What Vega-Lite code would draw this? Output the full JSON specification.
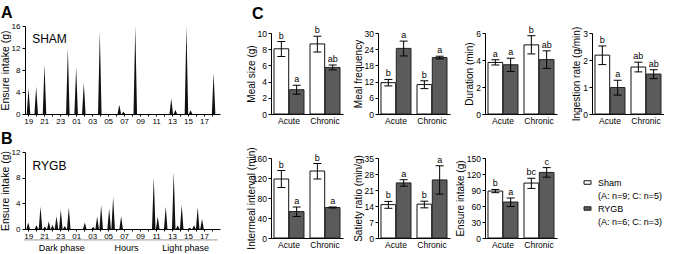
{
 "$schema": "https://vega.github.io/schema/vega-lite/v6.json",
 "padding": {"left": 0, "top": 5, "right": 0, "bottom": 0},
 "config": {
  "font": "Liberation Sans",
  "view": {"stroke": null},
  "axis": {"domainColor": "#000", "tickColor": "#000", "labelColor": "#000", "titleColor": "#000", "grid": false, "labelFontSize": 8.5, "titleFontSize": 10, "titleFontWeight": "normal", "tickSize": 3, "labelPadding": 1.5, "titlePadding": 1, "labelOverlap": false, "tickCount": 60},
  "axisQuantitative": {"format": "~g"},
  "title": {"fontSize": 16, "fontWeight": "bold", "anchor": "start", "frame": "group", "baseline": "alphabetic", "color": "#000"},
  "legend": {"orient": "none", "legendX": 558, "legendY": 152, "symbolType": "M-1,-0.5H1V0.5H-1Z", "symbolSize": 49, "symbolStrokeWidth": 1, "labelFontSize": 9, "labelOffset": 6, "rowPadding": 3, "padding": 0, "labelColor": "#000", "labelLimit": 200}
 },
 "datasets": {
  "sham": [
   {"t": -0.18, "v": 0}, {"t": 0.04, "v": 4.7}, {"t": 0.26, "v": 0},
   {"t": 0.78, "v": 0}, {"t": 1.0, "v": 5.0}, {"t": 1.22, "v": 0},
   {"t": 1.82, "v": 0}, {"t": 2.04, "v": 9.0}, {"t": 2.26, "v": 0},
   {"t": 4.74, "v": 0}, {"t": 4.96, "v": 12.0}, {"t": 5.18, "v": 0},
   {"t": 5.78, "v": 0}, {"t": 6.0, "v": 8.5}, {"t": 6.22, "v": 0},
   {"t": 6.74, "v": 0}, {"t": 6.96, "v": 5.7}, {"t": 7.18, "v": 0},
   {"t": 8.74, "v": 0}, {"t": 8.96, "v": 15.0}, {"t": 9.18, "v": 0},
   {"t": 11.18, "v": 0}, {"t": 11.4, "v": 1.7}, {"t": 11.62, "v": 0},
   {"t": 11.7, "v": 0}, {"t": 11.92, "v": 0.4}, {"t": 12.14, "v": 0},
   {"t": 13.18, "v": 0}, {"t": 13.4, "v": 16.0}, {"t": 13.62, "v": 0},
   {"t": 17.68, "v": 0}, {"t": 17.9, "v": 2.8}, {"t": 18.12, "v": 0},
   {"t": 18.2, "v": 0}, {"t": 18.42, "v": 0.75}, {"t": 18.64, "v": 0},
   {"t": 19.58, "v": 0}, {"t": 19.8, "v": 16.0}, {"t": 20.02, "v": 0},
   {"t": 20.1, "v": 0}, {"t": 20.32, "v": 0.7}, {"t": 20.54, "v": 0},
   {"t": 22.98, "v": 0}, {"t": 23.2, "v": 7.5}, {"t": 23.42, "v": 0}
  ],
  "rygb": [
   {"t": -0.22, "v": 0}, {"t": 0.0, "v": 1.0}, {"t": 0.22, "v": 0},
   {"t": 0.82, "v": 0}, {"t": 1.04, "v": 0.6}, {"t": 1.26, "v": 0},
   {"t": 1.32, "v": 0}, {"t": 1.54, "v": 3.5}, {"t": 1.76, "v": 0},
   {"t": 1.86, "v": 0}, {"t": 2.08, "v": 0.4}, {"t": 2.3, "v": 0},
   {"t": 2.36, "v": 0}, {"t": 2.58, "v": 1.15}, {"t": 2.8, "v": 0},
   {"t": 2.84, "v": 0}, {"t": 3.04, "v": 0.65}, {"t": 3.26, "v": 0},
   {"t": 3.32, "v": 0}, {"t": 3.54, "v": 2.0}, {"t": 3.76, "v": 0},
   {"t": 3.86, "v": 0}, {"t": 4.08, "v": 3.0}, {"t": 4.3, "v": 0},
   {"t": 4.36, "v": 0}, {"t": 4.58, "v": 0.45}, {"t": 4.8, "v": 0},
   {"t": 4.86, "v": 0}, {"t": 5.08, "v": 3.35}, {"t": 5.3, "v": 0},
   {"t": 6.86, "v": 0}, {"t": 7.08, "v": 1.0}, {"t": 7.3, "v": 0},
   {"t": 7.91, "v": 0}, {"t": 8.13, "v": 0.35}, {"t": 8.35, "v": 0},
   {"t": 8.41, "v": 0}, {"t": 8.63, "v": 1.95}, {"t": 8.85, "v": 0},
   {"t": 8.91, "v": 0}, {"t": 9.13, "v": 3.7}, {"t": 9.35, "v": 0},
   {"t": 9.91, "v": 0}, {"t": 10.13, "v": 3.2}, {"t": 10.35, "v": 0},
   {"t": 10.41, "v": 0}, {"t": 10.63, "v": 5.0}, {"t": 10.85, "v": 0},
   {"t": 11.41, "v": 0}, {"t": 11.63, "v": 2.0}, {"t": 11.85, "v": 0},
   {"t": 15.49, "v": 0}, {"t": 15.71, "v": 8.05}, {"t": 15.93, "v": 0},
   {"t": 15.99, "v": 0}, {"t": 16.21, "v": 1.95}, {"t": 16.43, "v": 0},
   {"t": 16.99, "v": 0}, {"t": 17.21, "v": 3.5}, {"t": 17.43, "v": 0},
   {"t": 17.99, "v": 0}, {"t": 18.21, "v": 8.9}, {"t": 18.43, "v": 0},
   {"t": 18.49, "v": 0}, {"t": 18.71, "v": 0.6}, {"t": 18.93, "v": 0},
   {"t": 18.99, "v": 0}, {"t": 19.21, "v": 3.75}, {"t": 19.43, "v": 0},
   {"t": 19.99, "v": 0}, {"t": 20.21, "v": 0.2}, {"t": 20.43, "v": 0},
   {"t": 20.53, "v": 0}, {"t": 20.75, "v": 0.6}, {"t": 20.97, "v": 0},
   {"t": 20.99, "v": 0}, {"t": 21.21, "v": 3.4}, {"t": 21.43, "v": 0},
   {"t": 21.53, "v": 0}, {"t": 21.75, "v": 1.55}, {"t": 21.97, "v": 0}
  ],
  "mealsize": [
   {"cond": "Acute", "group": "Sham", "mean": 8.05, "lo": 7.1, "hi": 8.95, "lab": "b"},
   {"cond": "Acute", "group": "RYGB", "mean": 3.0, "lo": 2.45, "hi": 3.55, "lab": "a"},
   {"cond": "Chronic", "group": "Sham", "mean": 8.65, "lo": 7.65, "hi": 9.6, "lab": "b"},
   {"cond": "Chronic", "group": "RYGB", "mean": 5.75, "lo": 5.45, "hi": 6.05, "lab": "ab"}
  ],
  "mealfreq": [
   {"cond": "Acute", "group": "Sham", "mean": 11.6, "lo": 10.4, "hi": 12.8, "lab": "b"},
   {"cond": "Acute", "group": "RYGB", "mean": 24.3, "lo": 21.5, "hi": 27.0, "lab": "a"},
   {"cond": "Chronic", "group": "Sham", "mean": 10.9, "lo": 9.4, "hi": 12.3, "lab": "b"},
   {"cond": "Chronic", "group": "RYGB", "mean": 20.9, "lo": 20.4, "hi": 21.4, "lab": "a"}
  ],
  "duration": [
   {"cond": "Acute", "group": "Sham", "mean": 3.82, "lo": 3.63, "hi": 4.02, "lab": "a"},
   {"cond": "Acute", "group": "RYGB", "mean": 3.65, "lo": 3.15, "hi": 4.13, "lab": "a"},
   {"cond": "Chronic", "group": "Sham", "mean": 5.12, "lo": 4.45, "hi": 5.8, "lab": "b"},
   {"cond": "Chronic", "group": "RYGB", "mean": 4.03, "lo": 3.38, "hi": 4.68, "lab": "ab"}
  ],
  "ingestion": [
   {"cond": "Acute", "group": "Sham", "mean": 2.18, "lo": 1.83, "hi": 2.52, "lab": "b"},
   {"cond": "Acute", "group": "RYGB", "mean": 0.98, "lo": 0.7, "hi": 1.25, "lab": "a"},
   {"cond": "Chronic", "group": "Sham", "mean": 1.74, "lo": 1.56, "hi": 1.92, "lab": "ab"},
   {"cond": "Chronic", "group": "RYGB", "mean": 1.48, "lo": 1.31, "hi": 1.64, "lab": "ab"}
  ],
  "intermeal": [
   {"cond": "Acute", "group": "Sham", "mean": 118, "lo": 101, "hi": 135, "lab": "b"},
   {"cond": "Acute", "group": "RYGB", "mean": 53, "lo": 43, "hi": 62, "lab": "a"},
   {"cond": "Chronic", "group": "Sham", "mean": 134, "lo": 118, "hi": 149, "lab": "b"},
   {"cond": "Chronic", "group": "RYGB", "mean": 61, "lo": 60, "hi": 62, "lab": "a"}
  ],
  "satiety": [
   {"cond": "Acute", "group": "Sham", "mean": 14.6, "lo": 13.0, "hi": 16.0, "lab": "b"},
   {"cond": "Acute", "group": "RYGB", "mean": 24.1, "lo": 22.7, "hi": 25.5, "lab": "a"},
   {"cond": "Chronic", "group": "Sham", "mean": 14.8, "lo": 13.2, "hi": 16.1, "lab": "b"},
   {"cond": "Chronic", "group": "RYGB", "mean": 25.4, "lo": 19.2, "hi": 31.6, "lab": "a"}
  ],
  "ensure": [
   {"cond": "Acute", "group": "Sham", "mean": 88, "lo": 85, "hi": 91, "lab": "b"},
   {"cond": "Acute", "group": "RYGB", "mean": 67.5, "lo": 59, "hi": 75, "lab": "a"},
   {"cond": "Chronic", "group": "Sham", "mean": 103, "lo": 93, "hi": 112, "lab": "bc"},
   {"cond": "Chronic", "group": "RYGB", "mean": 123, "lo": 114, "hi": 132, "lab": "c"}
  ]
 },
 "spacing": 26,
 "resolve": {"scale": {"xOffset": "independent"}},
 "hconcat": [
  {
   "vconcat": [
    {
     "width": 195, "height": 88,
     "title": {"text": "A", "dx": -24, "offset": 1},
     "layer": [
      {"data": {"name": "sham"}, "mark": {"type": "area", "color": "#111", "interpolate": "linear"},
       "encoding": {
        "x": {"field": "t", "type": "quantitative", "scale": {"domain": [-0.4, 24], "nice": false, "zero": false},
              "axis": {"title": null, "values": [0,1,2,3,4,5,6,7,8,9,10,11,12,13,14,15,16,17,18,19,20,21,22,23], "labelExpr": "datum.value % 2 != 0 ? '' : (((19 + datum.value) % 24) < 10 ? '0' + ((19 + datum.value) % 24) : '' + ((19 + datum.value) % 24))", "tickSize": 2, "labelPadding": 1, "labelFontSize": 8, "labelFlush": false}},
        "y": {"field": "v", "type": "quantitative", "scale": {"domain": [0, 16], "nice": false},
              "axis": {"title": "Ensure intake (g)", "values": [0,4,8,12,16], "labelFontSize": 8, "titleFontSize": 10.5, "titlePadding": 1, "labelPadding": 2}}
       }},
      {"data": {"values": [{}]}, "mark": {"type": "text", "align": "left", "baseline": "alphabetic", "fontSize": 12, "color": "#000"},
       "encoding": {"x": {"datum": 0.5}, "y": {"datum": 12.9}, "text": {"value": "SHAM"}}}
     ]
    },
    {
     "width": 195, "height": 77,
     "title": {"text": "B", "dx": -24, "offset": 1},
     "layer": [
      {"data": {"name": "rygb"}, "mark": {"type": "area", "color": "#111", "interpolate": "linear"},
       "encoding": {
        "x": {"field": "t", "type": "quantitative", "scale": {"domain": [-0.4, 24], "nice": false, "zero": false},
              "axis": {"title": null, "values": [0,1,2,3,4,5,6,7,8,9,10,11,12,13,14,15,16,17,18,19,20,21,22,23], "labelExpr": "datum.value % 2 != 0 ? '' : (((19 + datum.value) % 24) < 10 ? '0' + ((19 + datum.value) % 24) : '' + ((19 + datum.value) % 24))", "tickSize": 2, "labelPadding": 1, "labelFontSize": 8, "labelFlush": false}},
        "y": {"field": "v", "type": "quantitative", "scale": {"domain": [0, 12], "nice": false},
              "axis": {"title": "Ensure intake (g)", "values": [0,4,8,12], "labelFontSize": 8, "titleFontSize": 10.5, "titlePadding": 1, "labelPadding": 2}}
       }},
      {"data": {"values": [{}]}, "mark": {"type": "text", "align": "left", "baseline": "alphabetic", "fontSize": 12, "color": "#000"},
       "encoding": {"x": {"datum": 0.55}, "y": {"datum": 9.2}, "text": {"value": "RYGB"}}},
      {"data": {"values": [{}]}, "mark": {"type": "rule", "color": "#999", "strokeWidth": 1},
       "encoding": {"x": {"datum": -0.5}, "x2": {"datum": 23.7}, "y": {"datum": -1.7}}},
      {"data": {"values": [{}]}, "mark": {"type": "text", "align": "center", "baseline": "alphabetic", "fontSize": 9, "color": "#000"},
       "encoding": {"x": {"datum": 4.2}, "y": {"datum": -3.4}, "text": {"value": "Dark phase"}}},
      {"data": {"values": [{}]}, "mark": {"type": "text", "align": "center", "baseline": "alphabetic", "fontSize": 9, "color": "#000"},
       "encoding": {"x": {"datum": 12.3}, "y": {"datum": -3.4}, "text": {"value": "Hours"}}},
      {"data": {"values": [{}]}, "mark": {"type": "text", "align": "center", "baseline": "alphabetic", "fontSize": 9, "color": "#000"},
       "encoding": {"x": {"datum": 19.7}, "y": {"datum": -3.4}, "text": {"value": "Light phase"}}}
     ]
    }
   ],
   "spacing": 38, "bounds": "flush",
   "resolve": {"scale": {"xOffset": "independent"}}
  },
  {
   "vconcat": [
    {
     "vconcat": [
      {"width": 10, "height": 1, "data": {"values": []}, "mark": {"type": "point", "opacity": 0},
       "title": {"text": "C", "dx": -19, "offset": 4}},
      {
       "hconcat": [
        {"width": 72, "height": 81, "data": {"name": "mealsize"},
         "encoding": {
          "x": {"field": "cond", "type": "nominal", "sort": ["Acute","Chronic"], "scale": {"paddingInner": 0.1667, "paddingOuter": 0.0833}, "axis": {"title": null, "labelAngle": 0, "ticks": false, "labelPadding": 2}},
          "xOffset": {"field": "group", "type": "nominal", "sort": ["Sham","RYGB"], "scale": {"domain": ["Sham","RYGB"], "paddingInner": 0.04}}
         },
         "layer": [
          {"mark": {"type": "bar", "strokeWidth": 1}, "encoding": {
            "y": {"field": "mean", "type": "quantitative", "stack": null, "scale": {"domain": [0, 10], "nice": false}, "axis": {"title": "Meal size (g)", "values": [0,2,4,6,8,10]}},
            "fill": {"field": "group", "type": "nominal", "scale": {"domain": ["Sham","(A: n=9; C: n=5)","RYGB","(A: n=6; C: n=3)"], "range": ["#ffffff","transparent","#5b5b5b","transparent"]}, "legend": {"title": null}},
            "stroke": {"field": "group", "type": "nominal", "scale": {"domain": ["Sham","(A: n=9; C: n=5)","RYGB","(A: n=6; C: n=3)"], "range": ["#111111","transparent","#222222","transparent"]}, "legend": {"title": null}}}},
          {"mark": {"type": "rule", "color": "#000", "strokeWidth": 1}, "encoding": {"y": {"field": "lo", "type": "quantitative"}, "y2": {"field": "hi"}}},
          {"mark": {"type": "tick", "color": "#000", "size": 8, "thickness": 1, "opacity": 1}, "encoding": {"y": {"field": "lo", "type": "quantitative"}}},
          {"mark": {"type": "tick", "color": "#000", "size": 8, "thickness": 1, "opacity": 1}, "encoding": {"y": {"field": "hi", "type": "quantitative"}}},
          {"mark": {"type": "text", "fontSize": 9, "baseline": "alphabetic", "dy": -3, "color": "#000"}, "encoding": {"y": {"field": "hi", "type": "quantitative"}, "text": {"field": "lab"}}}
         ]},
        {"width": 72, "height": 81, "data": {"name": "mealfreq"},
         "encoding": {
          "x": {"field": "cond", "type": "nominal", "sort": ["Acute","Chronic"], "scale": {"paddingInner": 0.1667, "paddingOuter": 0.0833}, "axis": {"title": null, "labelAngle": 0, "ticks": false, "labelPadding": 2}},
          "xOffset": {"field": "group", "type": "nominal", "sort": ["Sham","RYGB"], "scale": {"domain": ["Sham","RYGB"], "paddingInner": 0.04}}
         },
         "layer": [
          {"mark": {"type": "bar", "strokeWidth": 1}, "encoding": {
            "y": {"field": "mean", "type": "quantitative", "stack": null, "scale": {"domain": [0, 30], "nice": false}, "axis": {"title": "Meal frequency", "values": [0,6,12,18,24,30]}},
            "fill": {"field": "group", "type": "nominal", "scale": {"domain": ["Sham","(A: n=9; C: n=5)","RYGB","(A: n=6; C: n=3)"], "range": ["#ffffff","transparent","#5b5b5b","transparent"]}, "legend": {"title": null}},
            "stroke": {"field": "group", "type": "nominal", "scale": {"domain": ["Sham","(A: n=9; C: n=5)","RYGB","(A: n=6; C: n=3)"], "range": ["#111111","transparent","#222222","transparent"]}, "legend": {"title": null}}}},
          {"mark": {"type": "rule", "color": "#000", "strokeWidth": 1}, "encoding": {"y": {"field": "lo", "type": "quantitative"}, "y2": {"field": "hi"}}},
          {"mark": {"type": "tick", "color": "#000", "size": 8, "thickness": 1, "opacity": 1}, "encoding": {"y": {"field": "lo", "type": "quantitative"}}},
          {"mark": {"type": "tick", "color": "#000", "size": 8, "thickness": 1, "opacity": 1}, "encoding": {"y": {"field": "hi", "type": "quantitative"}}},
          {"mark": {"type": "text", "fontSize": 9, "baseline": "alphabetic", "dy": -3, "color": "#000"}, "encoding": {"y": {"field": "hi", "type": "quantitative"}, "text": {"field": "lab"}}}
         ]},
        {"width": 72, "height": 81, "data": {"name": "duration"},
         "encoding": {
          "x": {"field": "cond", "type": "nominal", "sort": ["Acute","Chronic"], "scale": {"paddingInner": 0.1667, "paddingOuter": 0.0833}, "axis": {"title": null, "labelAngle": 0, "ticks": false, "labelPadding": 2}},
          "xOffset": {"field": "group", "type": "nominal", "sort": ["Sham","RYGB"], "scale": {"domain": ["Sham","RYGB"], "paddingInner": 0.04}}
         },
         "layer": [
          {"mark": {"type": "bar", "strokeWidth": 1}, "encoding": {
            "y": {"field": "mean", "type": "quantitative", "stack": null, "scale": {"domain": [0, 6], "nice": false}, "axis": {"title": "Duration (min)", "values": [0,2,4,6]}},
            "fill": {"field": "group", "type": "nominal", "scale": {"domain": ["Sham","(A: n=9; C: n=5)","RYGB","(A: n=6; C: n=3)"], "range": ["#ffffff","transparent","#5b5b5b","transparent"]}, "legend": {"title": null}},
            "stroke": {"field": "group", "type": "nominal", "scale": {"domain": ["Sham","(A: n=9; C: n=5)","RYGB","(A: n=6; C: n=3)"], "range": ["#111111","transparent","#222222","transparent"]}, "legend": {"title": null}}}},
          {"mark": {"type": "rule", "color": "#000", "strokeWidth": 1}, "encoding": {"y": {"field": "lo", "type": "quantitative"}, "y2": {"field": "hi"}}},
          {"mark": {"type": "tick", "color": "#000", "size": 8, "thickness": 1, "opacity": 1}, "encoding": {"y": {"field": "lo", "type": "quantitative"}}},
          {"mark": {"type": "tick", "color": "#000", "size": 8, "thickness": 1, "opacity": 1}, "encoding": {"y": {"field": "hi", "type": "quantitative"}}},
          {"mark": {"type": "text", "fontSize": 9, "baseline": "alphabetic", "dy": -3, "color": "#000"}, "encoding": {"y": {"field": "hi", "type": "quantitative"}, "text": {"field": "lab"}}}
         ]},
        {"width": 72, "height": 81, "data": {"name": "ingestion"},
         "encoding": {
          "x": {"field": "cond", "type": "nominal", "sort": ["Acute","Chronic"], "scale": {"paddingInner": 0.1667, "paddingOuter": 0.0833}, "axis": {"title": null, "labelAngle": 0, "ticks": false, "labelPadding": 2}},
          "xOffset": {"field": "group", "type": "nominal", "sort": ["Sham","RYGB"], "scale": {"domain": ["Sham","RYGB"], "paddingInner": 0.04}}
         },
         "layer": [
          {"mark": {"type": "bar", "strokeWidth": 1}, "encoding": {
            "y": {"field": "mean", "type": "quantitative", "stack": null, "scale": {"domain": [0, 3], "nice": false}, "axis": {"title": "Ingestion rate (g/min)", "values": [0,1,2,3]}},
            "fill": {"field": "group", "type": "nominal", "scale": {"domain": ["Sham","(A: n=9; C: n=5)","RYGB","(A: n=6; C: n=3)"], "range": ["#ffffff","transparent","#5b5b5b","transparent"]}, "legend": {"title": null}},
            "stroke": {"field": "group", "type": "nominal", "scale": {"domain": ["Sham","(A: n=9; C: n=5)","RYGB","(A: n=6; C: n=3)"], "range": ["#111111","transparent","#222222","transparent"]}, "legend": {"title": null}}}},
          {"mark": {"type": "rule", "color": "#000", "strokeWidth": 1}, "encoding": {"y": {"field": "lo", "type": "quantitative"}, "y2": {"field": "hi"}}},
          {"mark": {"type": "tick", "color": "#000", "size": 8, "thickness": 1, "opacity": 1}, "encoding": {"y": {"field": "lo", "type": "quantitative"}}},
          {"mark": {"type": "tick", "color": "#000", "size": 8, "thickness": 1, "opacity": 1}, "encoding": {"y": {"field": "hi", "type": "quantitative"}}},
          {"mark": {"type": "text", "fontSize": 9, "baseline": "alphabetic", "dy": -3, "color": "#000"}, "encoding": {"y": {"field": "hi", "type": "quantitative"}, "text": {"field": "lab"}}}
         ]}
       ],
       "spacing": 35, "bounds": "flush",
       "resolve": {"scale": {"xOffset": "independent"}}
      }
     ],
     "spacing": -2,
     "resolve": {"scale": {"xOffset": "independent"}}
    },
    {
     "hconcat": [
      {"width": 72, "height": 80, "data": {"name": "intermeal"},
       "encoding": {
        "x": {"field": "cond", "type": "nominal", "sort": ["Acute","Chronic"], "scale": {"paddingInner": 0.1667, "paddingOuter": 0.0833}, "axis": {"title": null, "labelAngle": 0, "ticks": false, "labelPadding": 2}},
        "xOffset": {"field": "group", "type": "nominal", "sort": ["Sham","RYGB"], "scale": {"domain": ["Sham","RYGB"], "paddingInner": 0.04}}
       },
       "layer": [
        {"mark": {"type": "bar", "strokeWidth": 1}, "encoding": {
          "y": {"field": "mean", "type": "quantitative", "stack": null, "scale": {"domain": [0, 160], "nice": false}, "axis": {"title": "Intermeal interval (min)", "values": [0,40,80,120,160], "titlePadding": -4}},
          "fill": {"field": "group", "type": "nominal", "scale": {"domain": ["Sham","(A: n=9; C: n=5)","RYGB","(A: n=6; C: n=3)"], "range": ["#ffffff","transparent","#5b5b5b","transparent"]}, "legend": {"title": null}},
          "stroke": {"field": "group", "type": "nominal", "scale": {"domain": ["Sham","(A: n=9; C: n=5)","RYGB","(A: n=6; C: n=3)"], "range": ["#111111","transparent","#222222","transparent"]}, "legend": {"title": null}}}},
        {"mark": {"type": "rule", "color": "#000", "strokeWidth": 1}, "encoding": {"y": {"field": "lo", "type": "quantitative"}, "y2": {"field": "hi"}}},
        {"mark": {"type": "tick", "color": "#000", "size": 8, "thickness": 1, "opacity": 1}, "encoding": {"y": {"field": "lo", "type": "quantitative"}}},
        {"mark": {"type": "tick", "color": "#000", "size": 8, "thickness": 1, "opacity": 1}, "encoding": {"y": {"field": "hi", "type": "quantitative"}}},
        {"mark": {"type": "text", "fontSize": 9, "baseline": "alphabetic", "dy": -3, "color": "#000"}, "encoding": {"y": {"field": "hi", "type": "quantitative"}, "text": {"field": "lab"}}}
       ]},
      {"width": 72, "height": 80, "data": {"name": "satiety"},
       "encoding": {
        "x": {"field": "cond", "type": "nominal", "sort": ["Acute","Chronic"], "scale": {"paddingInner": 0.1667, "paddingOuter": 0.0833}, "axis": {"title": null, "labelAngle": 0, "ticks": false, "labelPadding": 2}},
        "xOffset": {"field": "group", "type": "nominal", "sort": ["Sham","RYGB"], "scale": {"domain": ["Sham","RYGB"], "paddingInner": 0.04}}
       },
       "layer": [
        {"mark": {"type": "bar", "strokeWidth": 1}, "encoding": {
          "y": {"field": "mean", "type": "quantitative", "stack": null, "scale": {"domain": [0, 35], "nice": false}, "axis": {"title": "Satiety ratio (min/g)", "values": [0,7,14,21,28,35]}},
          "fill": {"field": "group", "type": "nominal", "scale": {"domain": ["Sham","(A: n=9; C: n=5)","RYGB","(A: n=6; C: n=3)"], "range": ["#ffffff","transparent","#5b5b5b","transparent"]}, "legend": {"title": null}},
          "stroke": {"field": "group", "type": "nominal", "scale": {"domain": ["Sham","(A: n=9; C: n=5)","RYGB","(A: n=6; C: n=3)"], "range": ["#111111","transparent","#222222","transparent"]}, "legend": {"title": null}}}},
        {"mark": {"type": "rule", "color": "#000", "strokeWidth": 1}, "encoding": {"y": {"field": "lo", "type": "quantitative"}, "y2": {"field": "hi"}}},
        {"mark": {"type": "tick", "color": "#000", "size": 8, "thickness": 1, "opacity": 1}, "encoding": {"y": {"field": "lo", "type": "quantitative"}}},
        {"mark": {"type": "tick", "color": "#000", "size": 8, "thickness": 1, "opacity": 1}, "encoding": {"y": {"field": "hi", "type": "quantitative"}}},
        {"mark": {"type": "text", "fontSize": 9, "baseline": "alphabetic", "dy": -3, "color": "#000"}, "encoding": {"y": {"field": "hi", "type": "quantitative"}, "text": {"field": "lab"}}}
       ]},
      {"width": 72, "height": 80, "data": {"name": "ensure"},
       "encoding": {
        "x": {"field": "cond", "type": "nominal", "sort": ["Acute","Chronic"], "scale": {"paddingInner": 0.1667, "paddingOuter": 0.0833}, "axis": {"title": null, "labelAngle": 0, "ticks": false, "labelPadding": 2}},
        "xOffset": {"field": "group", "type": "nominal", "sort": ["Sham","RYGB"], "scale": {"domain": ["Sham","RYGB"], "paddingInner": 0.04}}
       },
       "layer": [
        {"mark": {"type": "bar", "strokeWidth": 1}, "encoding": {
          "y": {"field": "mean", "type": "quantitative", "stack": null, "scale": {"domain": [0, 150], "nice": false}, "axis": {"title": "Ensure intake (g)", "values": [0,30,60,90,120,150]}},
          "fill": {"field": "group", "type": "nominal", "scale": {"domain": ["Sham","(A: n=9; C: n=5)","RYGB","(A: n=6; C: n=3)"], "range": ["#ffffff","transparent","#5b5b5b","transparent"]}, "legend": {"title": null}},
          "stroke": {"field": "group", "type": "nominal", "scale": {"domain": ["Sham","(A: n=9; C: n=5)","RYGB","(A: n=6; C: n=3)"], "range": ["#111111","transparent","#222222","transparent"]}, "legend": {"title": null}}}},
        {"mark": {"type": "rule", "color": "#000", "strokeWidth": 1}, "encoding": {"y": {"field": "lo", "type": "quantitative"}, "y2": {"field": "hi"}}},
        {"mark": {"type": "tick", "color": "#000", "size": 8, "thickness": 1, "opacity": 1}, "encoding": {"y": {"field": "lo", "type": "quantitative"}}},
        {"mark": {"type": "tick", "color": "#000", "size": 8, "thickness": 1, "opacity": 1}, "encoding": {"y": {"field": "hi", "type": "quantitative"}}},
        {"mark": {"type": "text", "fontSize": 9, "baseline": "alphabetic", "dy": -3, "color": "#000"}, "encoding": {"y": {"field": "hi", "type": "quantitative"}, "text": {"field": "lab"}}}
       ]}
     ],
     "spacing": 35, "bounds": "flush",
     "resolve": {"scale": {"xOffset": "independent"}}
    }
   ],
   "spacing": 21,
   "resolve": {"scale": {"xOffset": "independent"}}
  }
 ]
}
